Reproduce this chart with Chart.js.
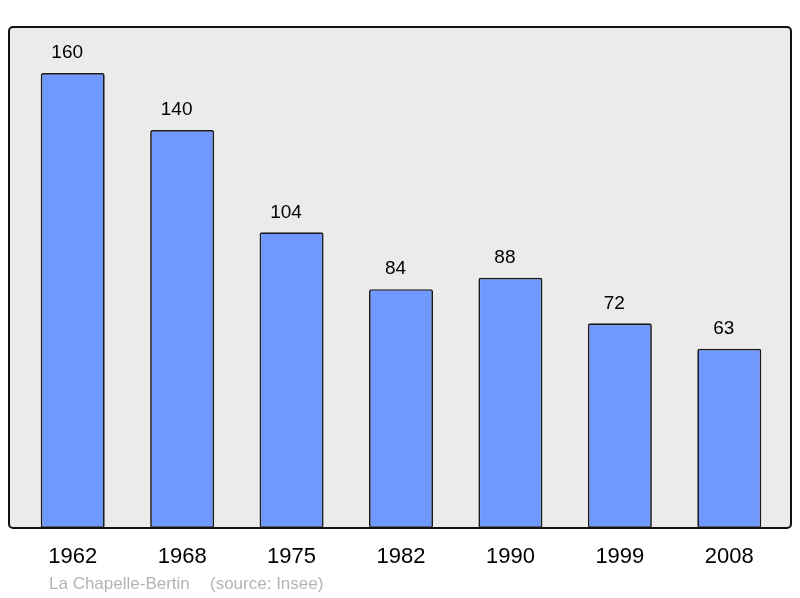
<!DOCTYPE html>
<html><head><meta charset="utf-8">
<script src="https://cdn.jsdelivr.net/npm/chart.js@4/dist/chart.umd.min.js"></script>
<style>html,body{margin:0;padding:0;background:#fff}#wrap{width:800px;height:598px}</style>
</head><body><div id="wrap"><canvas id="c" width="800" height="598"></canvas></div>
<script>
const years = ["1962","1968","1975","1982","1990","1999","2008"];
const population = [160,140,104,84,88,72,63];
const footerName = "La Chapelle-Bertin";
const footerSource = "(source: Insee)";
const FONT = "'Liberation Sans', Arial, sans-serif";

const framePlugin = {
  id: 'frame',
  beforeDatasetsDraw(chart) {
    const ctx = chart.ctx;
    ctx.save();
    ctx.beginPath();
    ctx.roundRect(9, 27, 782, 501, 4);
    ctx.fillStyle = '#ebebeb';
    ctx.fill();
    ctx.restore();
  },
  afterDatasetsDraw(chart) {
    const ctx = chart.ctx;
    const x = chart.scales.x, y = chart.scales.y;
    ctx.save();
    ctx.beginPath();
    ctx.roundRect(9, 27, 782, 501, 4);
    ctx.lineWidth = 2;
    ctx.strokeStyle = '#111';
    ctx.stroke();
    ctx.fillStyle = '#000';
    ctx.textAlign = 'center';
    ctx.textBaseline = 'middle';
    ctx.font = '19px ' + FONT;
    population.forEach((v, i) => {
      ctx.fillText(String(v), x.getPixelForValue(i) - 5.5, y.getPixelForValue(v) - 20);
    });
    ctx.font = '22px ' + FONT;
    years.forEach((t, i) => {
      ctx.fillText(t, x.getPixelForValue(i), 557);
    });
    ctx.fillStyle = '#b4b4b4';
    ctx.font = '17px ' + FONT;
    ctx.textAlign = 'left';
    ctx.fillText(footerName, 49, 584);
    ctx.fillText(footerSource, 210, 584);
    ctx.restore();
  }
};

new Chart(document.getElementById('c'), {
  type: 'bar',
  data: {
    labels: years,
    datasets: [{
      data: population,
      backgroundColor: '#7099ff',
      borderColor: '#1a1a1a',
      borderWidth: 1.7,
      borderRadius: 2,
      borderSkipped: false,
      categoryPercentage: 1,
      barPercentage: 0.585
    }]
  },
  options: {
    responsive: false,
    animation: false,
    devicePixelRatio: 1,
    layout: { padding: { left: 18, right: 16, top: 27, bottom: 70 } },
    plugins: { legend: { display: false }, tooltip: { enabled: false } },
    scales: {
      x: { display: false, offset: true },
      y: { display: false, min: 0, max: 176.2 }
    }
  },
  plugins: [framePlugin]
});
</script>
</body></html>
